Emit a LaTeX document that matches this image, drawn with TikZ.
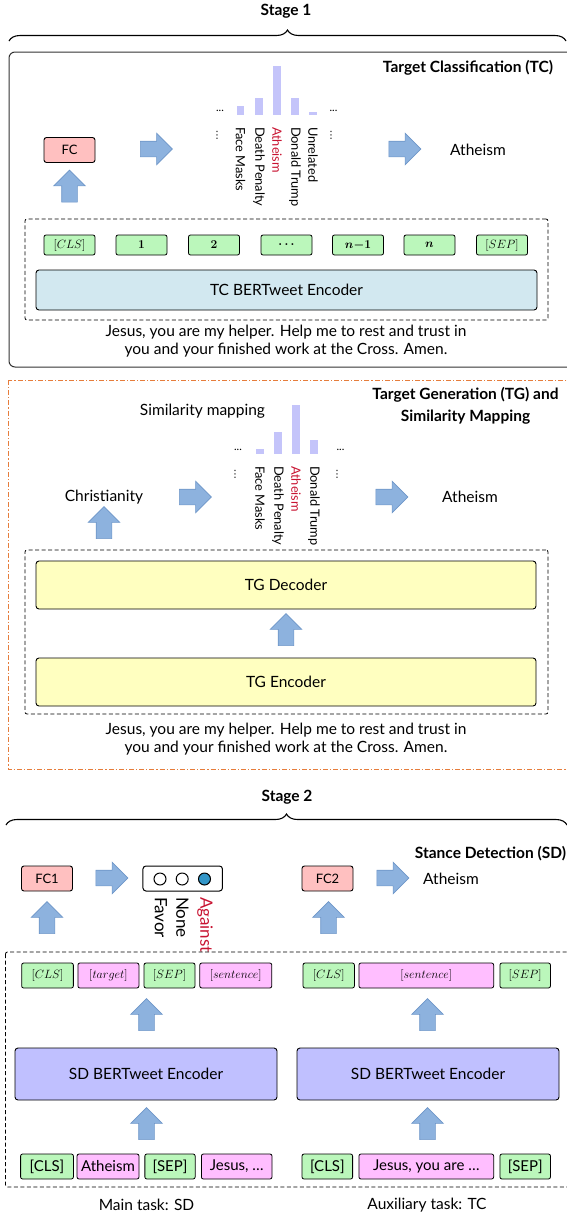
\documentclass[tikz,border=0pt]{standalone}
\usepackage{fontspec}
\setmainfont{Lato}
\newfontfamily\djv{DejaVu Sans}
\usepackage{amsmath,bm}
\usetikzlibrary{shapes.arrows,decorations.pathreplacing}
\definecolor{tokgreen}{RGB}{187,247,187}
\definecolor{tokpink}{RGB}{255,190,255}
\definecolor{fcred}{RGB}{255,192,192}
\definecolor{tcblue}{RGB}{210,232,240}
\definecolor{tgyellow}{RGB}{255,255,192}
\definecolor{sdpurple}{RGB}{192,192,255}
\definecolor{barcol}{RGB}{196,196,250}
\definecolor{arrfill}{RGB}{141,178,222}
\definecolor{arrdraw}{RGB}{110,150,200}
\definecolor{tgorange}{RGB}{230,125,60}
\definecolor{labred}{RGB}{200,20,50}
\definecolor{dotblue}{RGB}{50,150,200}
\newcommand{\fmain}{\fontsize{15.5}{18}\selectfont}
\newcommand{\fsmall}{\fontsize{13}{15}\selectfont}
\newcommand{\frot}{\fontsize{12.8}{15}\selectfont}
\newcommand{\ftitle}{\fontsize{15.5}{22}\selectfont\bfseries}
\begin{document}
\begin{tikzpicture}[x=1pt,y=-1pt,
  every node/.style={inner sep=0pt,outer sep=0pt},
  txt/.style={font=\fmain},
  ttl/.style={font=\ftitle},
  rotlab/.style={font=\frot,rotate=-90,anchor=west},
  bigrot/.style={font=\fontsize{17}{18}\selectfont,rotate=-90,anchor=west},
  dots/.style={font=\fontsize{11}{12}\selectfont},
  vdots/.style={font=\djv\fontsize{10}{11}\selectfont},
  tok/.style={draw,rounded corners=2pt,line width=0.8pt,fill=tokgreen,minimum height=20pt,font=\fontsize{12.5}{14}\selectfont},
  tokb/.style={tok,minimum height=25pt},
  stok/.style={tokb,font=\fontsize{15}{17}\selectfont},
  pinkt/.style={fill=tokpink},
  fcbox/.style={draw,rounded corners=2.5pt,line width=0.9pt,fill=fcred,minimum width=51pt,minimum height=25pt,font=\fsmall},
  bigbox/.style={draw,rounded corners=3pt,line width=0.9pt,font=\fmain},
  dashbox/.style={draw,dash pattern=on 4pt off 2.5pt,line width=0.8pt,rounded corners=2pt},
  barrow/.style={single arrow,draw=arrdraw,fill=arrfill,line width=0.6pt,minimum height=32pt,minimum width=31pt,single arrow head extend=8pt,single arrow head indent=0pt,text height=0pt,text depth=0pt,inner xsep=0pt,inner ysep=7.5pt},
  uparrow/.style={barrow,rotate=90},
  bar/.style={fill=barcol,draw=none},
  brc/.style={decorate,decoration={brace,amplitude=11pt},line width=1.1pt}
]
\useasboundingbox (0,0) rectangle (567,1216);

% ---------------- Stage 1 ----------------
\node[ttl] (stage1) at (286,11) {Stage 1};
\draw[brc] (9,41) -- (566,41);

% TC frame
\draw[rounded corners=6pt,line width=1pt,draw=black!80] (9,52) rectangle (580,367);
\node[ttl,anchor=east] (tctitle) at (553,68) {Target Classification (TC)};

% bars TC
\fill[bar] (236.75,115) rectangle (244.25,106);
\fill[bar] (255.25,115) rectangle (262.75,98);
\fill[bar] (273.25,115) rectangle (280.75,66);
\fill[bar] (291.25,115) rectangle (298.75,98);
\fill[bar] (309.25,115) rectangle (316.75,112);
\node[dots] (tcdl) at (220,111) {...};
\node[dots] (tcdr) at (333.5,111) {...};
\node[vdots] (tcvl) at (217,135) {⋮};
\node[vdots] (tcvr) at (331,135) {⋮};
\node[rotlab] (tcl1) at (240.5,127) {Face Masks};
\node[rotlab] (tcl2) at (259,127) {Death Penalty};
\node[rotlab,text=labred] (tcl3) at (277,127) {Atheism};
\node[rotlab] (tcl4) at (295,127) {Donald Trump};
\node[rotlab] (tcl5) at (313,127) {Unrelated};

\node[fcbox] (fc) at (69.5,150) {FC};
\node[barrow] (tca1) at (152.5,149) {};
\node[barrow] (tca2) at (401,149) {};
\node[txt] (tcath) at (478,150) {Atheism};
\node[uparrow] (tcup) at (69.5,190) {};

\node[dashbox,minimum width=523pt,minimum height=101pt] (tcdash) at (286.5,269.5) {};
\node[tok,minimum width=51pt] (tk1) at (69.5,245) {$[CLS]$};
\node[tok,minimum width=51pt] (tk2) at (141.5,245) {$\bm{1}$};
\node[tok,minimum width=51pt] (tk3) at (214,245) {$\bm{2}$};
\node[tok,minimum width=51pt] (tk4) at (286.5,245) {$\bm{\ldots}$};
\node[tok,minimum width=51pt] (tk5) at (358,245) {$\bm{n{-}1}$};
\node[tok,minimum width=51pt] (tk6) at (429.5,245) {$\bm{n}$};
\node[tok,minimum width=51pt] (tk7) at (502,245) {$[SEP]$};
\node[bigbox,fill=tcblue,minimum width=501pt,minimum height=40pt] (tcenc) at (286.5,290) {TC BERTweet Encoder};
\node[txt,align=center] (tcsent) at (286,341) {Jesus, you are my helper. Help me to rest and trust in\\you and your finished work at the Cross. Amen.};

% TG frame
\draw[draw=tgorange,line width=0.9pt,dash pattern=on 5pt off 2pt on 1.2pt off 2pt] (8,380) rectangle (580,769);
\node[ttl,align=center] (tgtitle) at (465.5,406) {Target Generation (TG) and\\Similarity Mapping};
\node[txt] (simmap) at (202.5,411) {Similarity mapping};

\fill[bar] (256.25,454) rectangle (263.75,449);
\fill[bar] (274.25,454) rectangle (281.75,432);
\fill[bar] (292.25,454) rectangle (299.75,405);
\fill[bar] (310.25,454) rectangle (317.75,440);
\node[dots] (tgdl) at (238,450) {...};
\node[dots] (tgdr) at (340.5,450) {...};
\node[vdots] (tgvl) at (235,474) {⋮};
\node[vdots] (tgvr) at (337,474) {⋮};
\node[rotlab] (tgl1) at (260,466) {Face Masks};
\node[rotlab] (tgl2) at (278,466) {Death Penalty};
\node[rotlab,text=labred] (tgl3) at (296,466) {Atheism};
\node[rotlab] (tgl4) at (314,466) {Donald Trump};

\node[txt] (christ) at (104,497) {Christianity};
\node[barrow] (tga1) at (191.5,497) {};
\node[barrow] (tga2) at (388,497) {};
\node[txt] (tgath) at (470,497) {Atheism};
\node[uparrow] (tgup) at (104,526.5) {};

\node[dashbox,minimum width=523pt,minimum height=164pt] (tgdash) at (286.5,632) {};
\node[bigbox,fill=tgyellow,minimum width=500pt,minimum height=48pt] (tgdec) at (286,585) {TG Decoder};
\node[uparrow] (tgup2) at (286,633.5) {};
\node[bigbox,fill=tgyellow,minimum width=500pt,minimum height=48pt] (tgenc) at (286,682) {TG Encoder};
\node[txt,align=center] (tgsent) at (286,739) {Jesus, you are my helper. Help me to rest and trust in\\you and your finished work at the Cross. Amen.};

% ---------------- Stage 2 ----------------
\node[ttl] (stage2) at (287,797) {Stage 2};
\draw[brc] (6,825) -- (567,825);
\node[ttl,anchor=east] (sdtitle) at (566,854) {Stance Detection (SD)};

\node[fcbox] (fc1) at (47,878.5) {FC1};
\node[barrow] (sda1) at (108,878) {};
\node[draw,rounded corners=3pt,line width=1pt,minimum width=79.5pt,minimum height=25pt] (prob) at (182.7,878.5) {};
\draw[line width=1pt] (160,879) circle (6);
\draw[line width=1pt] (182.2,879) circle (6);
\draw[line width=1pt,fill=dotblue] (204.5,879) circle (6);
\node[bigrot] (lfav) at (161,897) {Favor};
\node[bigrot] (lnon) at (182.5,897) {None};
\node[bigrot,text=labred] (lagn) at (205,897) {Against};

\node[fcbox] (fc2) at (327.5,878.5) {FC2};
\node[barrow] (sda2) at (389,878) {};
\node[txt] (sdath) at (451,879) {Atheism};
\node[uparrow] (sdup1) at (47,921.5) {};
\node[uparrow] (sdup2) at (328.5,921.5) {};

\draw[dash pattern=on 4pt off 2.5pt,line width=0.8pt,rounded corners=2pt] (5.5,952) rectangle (580,1187);

\node[tokb,minimum width=51.7pt] (r1a) at (47.5,975.5) {$[CLS]$};
\node[tokb,pinkt,minimum width=61pt] (r1b) at (108.4,975.5) {$[target]$};
\node[tokb,minimum width=51pt] (r1c) at (169.5,975.5) {$[SEP]$};
\node[tokb,pinkt,minimum width=72pt] (r1d) at (235.8,975.5) {$[sentence]$};
\node[tokb,minimum width=51.4pt] (r1e) at (328.7,975.5) {$[CLS]$};
\node[tokb,pinkt,minimum width=134.7pt] (r1f) at (426.3,975.5) {$[sentence]$};
\node[tokb,minimum width=50.5pt] (r1g) at (525.2,975.5) {$[SEP]$};

\node[uparrow] (sdup3) at (146.5,1018.5) {};
\node[uparrow] (sdup4) at (427.5,1018.5) {};
\node[bigbox,fill=sdpurple,minimum width=262pt,minimum height=52pt] (sdenc1) at (146,1074) {SD BERTweet Encoder};
\node[bigbox,fill=sdpurple,minimum width=262pt,minimum height=52pt] (sdenc2) at (428,1074) {SD BERTweet Encoder};
\node[uparrow] (sdup5) at (146.5,1127.5) {};
\node[uparrow] (sdup6) at (427.5,1127.5) {};

\node[stok,minimum width=52.8pt] (r2a) at (47,1166.5) {[CLS]};
\node[stok,pinkt,minimum width=62pt] (r2b) at (108,1166.5) {Atheism};
\node[stok,minimum width=50.3pt] (r2c) at (170,1166.5) {[SEP]};
\node[stok,pinkt,minimum width=70.6pt] (r2d) at (236.7,1166.5) {Jesus, …};
\node[stok,minimum width=50.6pt] (r2e) at (327.3,1166.5) {[CLS]};
\node[stok,pinkt,minimum width=134.7pt] (r2f) at (426.3,1166.5) {Jesus, you are …};
\node[stok,minimum width=50.5pt] (r2g) at (525.2,1166.5) {[SEP]};

\node[txt] (mainlab) at (146.5,1205) {Main task: SD};
\node[txt] (auxlab) at (427,1205) {Auxiliary task: TC};
\end{tikzpicture}
\end{document}
